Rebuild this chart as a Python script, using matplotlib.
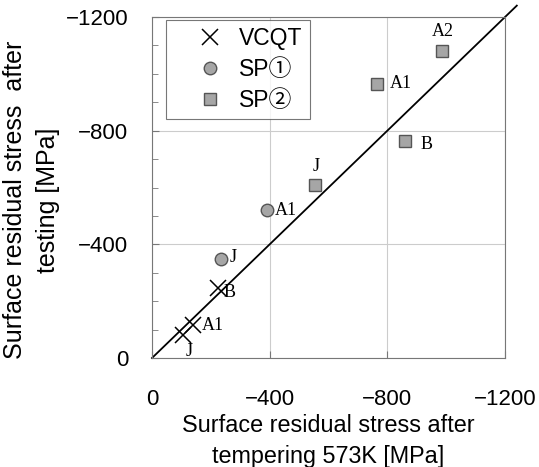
import matplotlib.pyplot as plt
import numpy as np

# residual stress before / after test [MPa]
vcqt_x = [-105, -140, -225]
vcqt_y = [-80, -115, -245]
vcqt_lab = ['J', 'A1', 'B']

sp1_x = [-235, -390]
sp1_y = [-350, -520]
sp1_lab = ['J', 'A1']

sp2_x = [-555, -765, -860, -985]
sp2_y = [-610, -965, -765, -1080]
sp2_lab = ['J', 'A1', 'B', 'A2']

ticks = [0, -400, -800, -1200]

plt.rcParams['font.family'] = ['Liberation Sans', 'Noto Sans CJK JP']
plt.rcParams['axes.unicode_minus'] = True

fig = plt.figure(figsize=(5.39, 4.67), dpi=100)
ax = fig.add_axes([0.282, 0.2334, 0.655, 0.7302])

ax.plot([0, -1240], [0, -1240], c='black', lw=1.3, clip_on=False, zorder=2)

ax.plot(vcqt_x, vcqt_y, ls='none', marker='x', ms=11, mew=1.1, c='black',
        label='VCQT', zorder=3)
ax.plot(sp1_x, sp1_y, ls='none', marker='o', ms=9, mfc='#a6a6a6', mec='#555555',
        mew=1.0, label='SP①', zorder=3)
ax.plot(sp2_x, sp2_y, ls='none', marker='s', ms=9, mfc='#a6a6a6', mec='#555555',
        mew=1.0, label='SP②', zorder=3)

serif = dict(family='Liberation Serif', fontsize=13)
# label offsets in points
offs = {('v', 'J'): (2, -12), ('v', 'A1'): (6, 0), ('v', 'B'): (4, -3),
        ('1', 'J'): (6, 1), ('1', 'A1'): (6, 0),
        ('2', 'J'): (-2, 13), ('2', 'A1'): (9, 0), ('2', 'B'): (11, -3),
        ('2', 'A2'): (-7, 14)}
for key, xs, ys, labs in [('v', vcqt_x, vcqt_y, vcqt_lab),
                          ('1', sp1_x, sp1_y, sp1_lab),
                          ('2', sp2_x, sp2_y, sp2_lab)]:
    for x, y, t in zip(xs, ys, labs):
        ax.annotate(t, (x, y), xytext=offs[(key, t)], textcoords='offset points',
                    va='center', ha='left', **serif)

ax.set_xlim(0, -1200)
ax.set_ylim(0, -1200)
ax.set_xticks(ticks)
ax.set_yticks(ticks)
ax.set_yticks(np.arange(0, -1201, -100), minor=True)
ax.tick_params(which='both', direction='in', labelsize=16, color='#777777')
ax.tick_params(which='major', length=5)
ax.tick_params(which='minor', length=4)
ax.tick_params(axis='y', pad=17)
ax.tick_params(axis='x', pad=22)
ax.grid(True, color='#cccccc', lw=0.8)
ax.set_axisbelow(True)
for s in ax.spines.values():
    s.set_color('#777777')

ax.set_xlabel('Surface residual stress after\ntempering 573K [MPa]', fontsize=16.8,
              linespacing=1.45, labelpad=3)
ax.set_ylabel('Surface residual stress  after\ntesting [MPa]', fontsize=18,
              linespacing=1.5)
ax.yaxis.set_label_coords(-0.26, 0.463)

leg = ax.legend(loc='upper left', bbox_to_anchor=(14 / 353, 1 - 3 / 341),
                fontsize=16.5, frameon=True, fancybox=False, edgecolor='#555555',
                borderpad=0.3, handlelength=3.2, handletextpad=-0.3,
                labelspacing=0.35, borderaxespad=0)
leg.get_frame().set_linewidth(0.8)

fig.savefig('out.png', dpi=100)
